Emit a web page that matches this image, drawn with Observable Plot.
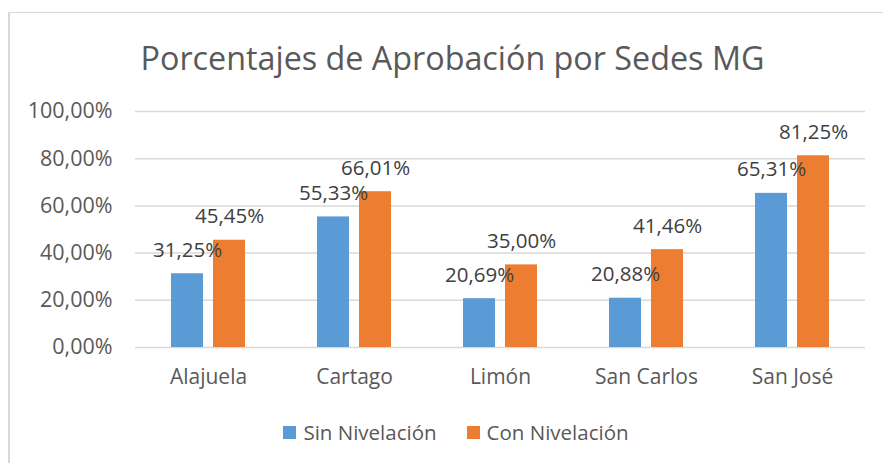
<!DOCTYPE html>
<html>
<head>
<meta charset="utf-8">
<script src="https://cdn.jsdelivr.net/npm/d3@7"></script>
<script src="https://cdn.jsdelivr.net/npm/@observablehq/plot@0.6"></script>
<style>
  html, body { margin: 0; padding: 0; background: #fff; }
  body { width: 883px; height: 463px; position: relative; overflow: hidden; font-family: "Open Sans", sans-serif; color: #595959; }
  #frame { position: absolute; left: 8px; top: 12px; width: 1000px; height: 1000px; border-left: 2px solid #d9d9d9; border-top: 1px solid #d9d9d9; box-sizing: border-box; }
  #title { position: absolute; left: 0; top: 35px; width: 905px; text-align: center; font-size: 32.3px; line-height: 44px; white-space: nowrap; }
  #chart { position: absolute; left: 0; top: 0; }
  #legend { position: absolute; left: 0; top: 418px; width: 912px; display: flex; justify-content: center; font-size: 20.5px; line-height: 28px; }
  .item { display: flex; align-items: center; margin: 0 15px; }
  .sw { width: 13px; height: 13px; margin-right: 7px; }
</style>
</head>
<body>
<div id="frame"></div>
<div id="title">Porcentajes de Aprobación por Sedes MG</div>
<div id="chart"></div>
<div id="legend"></div>
<script>
const categories = ["Alajuela", "Cartago", "Limón", "San Carlos", "San José"];
const series = ["Sin Nivelación", "Con Nivelación"];
const sinNivelacion = [31.25, 55.33, 20.69, 20.88, 65.31];
const conNivelacion = [45.45, 66.01, 35.00, 41.46, 81.25];
const yTicks = [0, 20, 40, 60, 80, 100];
const colors = ["#5B9BD5", "#ED7D31"];

const fmt = v => v.toFixed(2).replace(".", ",") + "%";

const data = [];
categories.forEach((c, i) => {
  data.push({sede: c, serie: series[0], valor: sinNivelacion[i]});
  data.push({sede: c, serie: series[1], valor: conNivelacion[i]});
});

const chart = Plot.plot({
  width: 883,
  height: 400,
  marginLeft: 133,
  marginRight: 16,
  marginTop: 111,
  marginBottom: 53,
  style: {fontFamily: "Open Sans, sans-serif", fontSize: "20px", color: "#595959", background: "transparent", overflow: "visible"},
  fx: {domain: categories, padding: 0, label: null},
  x: {domain: series, axis: null, paddingInner: 0.235, paddingOuter: 0.84},
  y: {domain: [0, 100], label: null},
  color: {domain: series, range: colors},
  marks: [
    Plot.ruleY(yTicks, {stroke: "#d9d9d9", strokeWidth: 1.5}),
    Plot.axisY(yTicks, {tickFormat: fmt, tickSize: 0, tickPadding: 23, fontSize: 21.5, fill: "#595959", label: null}),
    Plot.axisFx({anchor: "bottom", tickSize: 0, tickPadding: 22, fontSize: 21, fill: "#595959", label: null}),
    Plot.barY(data, {fx: "sede", x: "serie", y: "valor", fill: "serie"}),
    Plot.text(data, {fx: "sede", x: "serie", y: "valor", text: d => fmt(d.valor), lineAnchor: "bottom", dy: -17, fill: "#404040", fontSize: 20.5})
  ]
});
document.getElementById("chart").appendChild(chart);

const legend = document.getElementById("legend");
series.forEach((s, i) => {
  const item = document.createElement("div");
  item.className = "item";
  const sw = document.createElement("span");
  sw.className = "sw";
  sw.style.background = colors[i];
  const t = document.createElement("span");
  t.textContent = s;
  item.appendChild(sw);
  item.appendChild(t);
  legend.appendChild(item);
});
</script>
</body>
</html>
